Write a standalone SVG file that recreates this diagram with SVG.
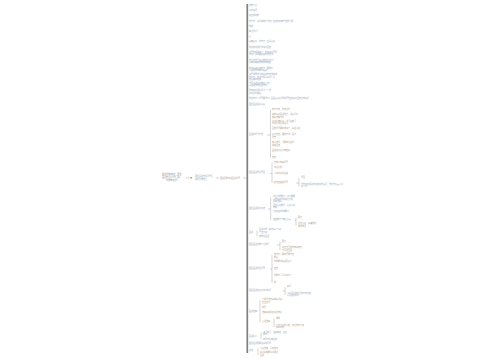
<svg xmlns="http://www.w3.org/2000/svg" width="500" height="360" viewBox="0 0 500 360">
<style>
text{font-family:"Noto Sans CJK SC","Noto Sans",sans-serif;font-size:2px;fill:#a0a0a0}
.c{stroke:#aaa;stroke-width:0.5;fill:none}
.m{stroke:#808080;stroke-width:1.7;fill:none}
.r{font-size:2.2px;fill:#909090}
</style>
<rect width="500" height="360" fill="#fff"/>
<g id="connectors">
<line class="m" x1="247.3" y1="4" x2="247.3" y2="353"/>
<line class="c" x1="186" y1="178" x2="189" y2="178"/>
<line class="c" x1="216" y1="178" x2="219" y2="178"/>
<line class="c" x1="243" y1="178" x2="247" y2="178"/>
<line class="c" x1="270.5" y1="110" x2="270.5" y2="158"/>
<line class="c" x1="267" y1="135" x2="270.5" y2="135"/>
<line class="c" x1="272" y1="163" x2="272" y2="183"/>
<line class="c" x1="270" y1="173.5" x2="272" y2="173.5"/>
<line class="c" x1="299" y1="178" x2="299" y2="186.5"/>
<line class="c" x1="296" y1="183" x2="299" y2="183"/>
<line class="c" x1="270.7" y1="197.5" x2="270.7" y2="220.5"/>
<line class="c" x1="268" y1="209" x2="270.7" y2="209"/>
<line class="c" x1="296" y1="217.5" x2="296" y2="225.5"/>
<line class="c" x1="295" y1="220.5" x2="296" y2="220.5"/>
<line class="c" x1="257" y1="230.5" x2="257" y2="236.5"/>
<line class="c" x1="280" y1="241.5" x2="280" y2="250"/>
<line class="c" x1="277" y1="245" x2="280" y2="245"/>
<line class="c" x1="272" y1="255" x2="272" y2="283"/>
<line class="c" x1="270" y1="269" x2="272" y2="269"/>
<line class="c" x1="285" y1="287" x2="285" y2="295"/>
<line class="c" x1="283" y1="291" x2="285" y2="291"/>
<line class="c" x1="260" y1="300" x2="260" y2="322"/>
<line class="c" x1="274" y1="318.5" x2="274" y2="327"/>
<line class="c" x1="261" y1="332.5" x2="261" y2="339.5"/>
<line class="c" x1="258" y1="348.5" x2="258" y2="355"/>
</g>
<g id="root"><text class="r" x="162" y="175.3">国企招聘考试：国企</text><text class="r" x="162" y="178.3">面试常见问题汇总(</text><text class="r" x="166" y="181.3">附参考答案)</text></g>
<g id="n-mid"><text x="190" y="178.6">■</text><text x="195" y="176.8">国企面试常见问题汇</text><text x="195" y="179.6">总附参考答案</text><text x="220" y="178.6">国企招聘考试面试问题</text></g>
<g id="leaves-top">
<text x="249" y="6">自我介绍</text>
<text x="249" y="11">工作经历</text>
<text x="249" y="16">职业规划的</text>
<text x="249" y="21.7">你为什么选择来我们单位？谈谈你对本单位的了解</text>
<text x="249" y="26.7">优势</text>
<text x="249" y="32">缺点是什么</text>
<text x="249" y="37">爱</text>
<text x="249" y="42.3">兴趣爱好：你有什么业余爱好</text>
<text x="249" y="47.5">你对加班的看法如何回答</text>
<text x="249" y="52.5">如果你被录用了，你将如何开展</text><text x="249" y="55">工作？请简要谈谈你的想法</text>
<text x="249" y="60.5">你认为自己最大的优点是什么</text><text x="249" y="63">请举例说明你的优势所在</text>
<text x="249" y="68.5">你对薪资待遇有什么要求吗</text><text x="249" y="71">请谈谈你的期望薪资</text>
<text x="249" y="75">如果领导交代的任务你无法完成</text><text x="249" y="77.5">你会怎么处理这件事情呢？请</text><text x="249" y="80">结合实际谈谈</text>
<text x="249" y="83.5">与同事发生矛盾怎么办？</text><text x="249" y="86">请说说你的处理方式</text>
<text x="249" y="91">你的职业目标是什么？你</text><text x="249" y="93.5">打算如何实现</text>
<text x="249" y="99">你还有什么问题要问吗？面试官最后问的问题应该如何回答比较好呢</text>
<text x="249" y="105">国企面试注意事项</text>
</g>
<g id="branch-a"><text x="249" y="134.5">面试技巧与方法</text>
<text x="272" y="110">着装得体，整洁大方</text>
<text x="272" y="115">提前到达面试地点，熟悉环境</text><text x="272" y="117.5">做好准备工作</text>
<text x="272" y="121.7">注意礼貌礼仪，进门先敲门</text><text x="272" y="124.2">得到允许后再进入</text>
<text x="272" y="128.5">回答问题要简洁明了，条理清晰</text>
<text x="272" y="135">保持自信，眼神交流，面带</text><text x="272" y="137.5">微笑</text>
<text x="272" y="143">实事求是，不要夸大其词</text><text x="272" y="145.5">诚实回答</text>
<text x="272" y="150.5">面试结束后礼貌告别</text>
<text x="272" y="157.5">其他</text>
</g>
<g id="branch-b"><text x="249" y="173">国企面试常见题型</text>
<text x="274" y="163">自我认知类问题</text>
<text x="274" y="168">综合分析</text>
<text x="274" y="173.5">人际关系处理类</text>
<text x="274" y="183">应急应变类问题</text>
<text x="301" y="178">题目</text>
<text x="301" y="184.5">单位组织活动时突发意外情况，你作为负责人会</text><text x="301" y="187">怎么办</text>
</g>
<g id="branch-c"><text x="249" y="208.5">国企面试评分标准</text>
<text x="273" y="197">综合分析能力：对事物能</text><text x="273" y="199.5">从宏观和微观角度分析</text><text x="273" y="202">判断准确</text>
<text x="273" y="205.5">语言表达能力：表达清楚</text><text x="273" y="208">流畅</text>
<text x="273" y="211.5">计划组织协调能力</text>
<text x="273" y="220">应变能力与举止仪表</text>
<text x="298" y="217.5">要点</text>
<text x="298" y="224">反应迅速，情绪稳定</text><text x="298" y="226.5">考虑周全</text>
</g>
<g id="branch-d"><text x="249" y="233">面试</text>
<text x="259" y="230">面试时间一般为每人十到</text><text x="259" y="232.5">十五分钟</text>
<text x="259" y="236.5">结构化面试</text>
</g>
<g id="branch-e"><text x="249" y="245">国企面试自我介绍技巧</text>
<text x="282" y="241.5">要点</text>
<text x="282" y="248">突出自己的优势和特长</text><text x="282" y="250.5">与岗位匹配</text>
</g>
<g id="branch-f"><text x="249" y="268.5">国企面试常见问题</text>
<text x="274" y="255">你为什么要离开原单位</text><text x="274" y="257.5">原因</text>
<text x="274" y="262">你的期望薪资是多少</text>
<text x="274" y="269">其他</text>
<text x="274" y="276">你能为公司带来什么</text>
<text x="274" y="283">答</text>
</g>
<g id="branch-g"><text x="249" y="290.5">国企面试结束时如何提问</text>
<text x="287" y="287">提问</text>
<text x="287" y="293.5">可以问岗位的具体工作内容</text><text x="287" y="296">以及培训机会</text>
</g>
<g id="branch-h"><text x="249" y="311.5">面试准备</text>
<text x="262" y="300">了解单位的基本情况和</text><text x="262" y="302.5">企业文化</text>
<text x="262" y="307.5">简历</text>
<text x="262" y="313">准备好相关证书及材料</text>
<text x="262" y="322">心理准备</text>
<text x="276" y="318.5">调整</text>
<text x="276" y="325.5">保持良好的心态，充分休息以饱</text><text x="276" y="328">满的状态</text>
</g>
<g id="branch-i"><text x="249" y="336.5">面试礼仪</text>
<text x="263" y="332.5">进门敲门，坐姿端正，注意</text><text x="263" y="335">细节</text>
<text x="263" y="339.5">离开时礼貌道谢</text>
</g>
<g id="leaf-last"><text x="249" y="344">国企面试需要注意的问题</text></g>
<g id="branch-j"><text x="249" y="351">总结</text>
<text x="260" y="348.5">认真准备，沉着应对</text>
<text x="260" y="353">祝大家都能顺利通过</text><text x="260" y="355.5">面试</text>
</g>
</svg>
